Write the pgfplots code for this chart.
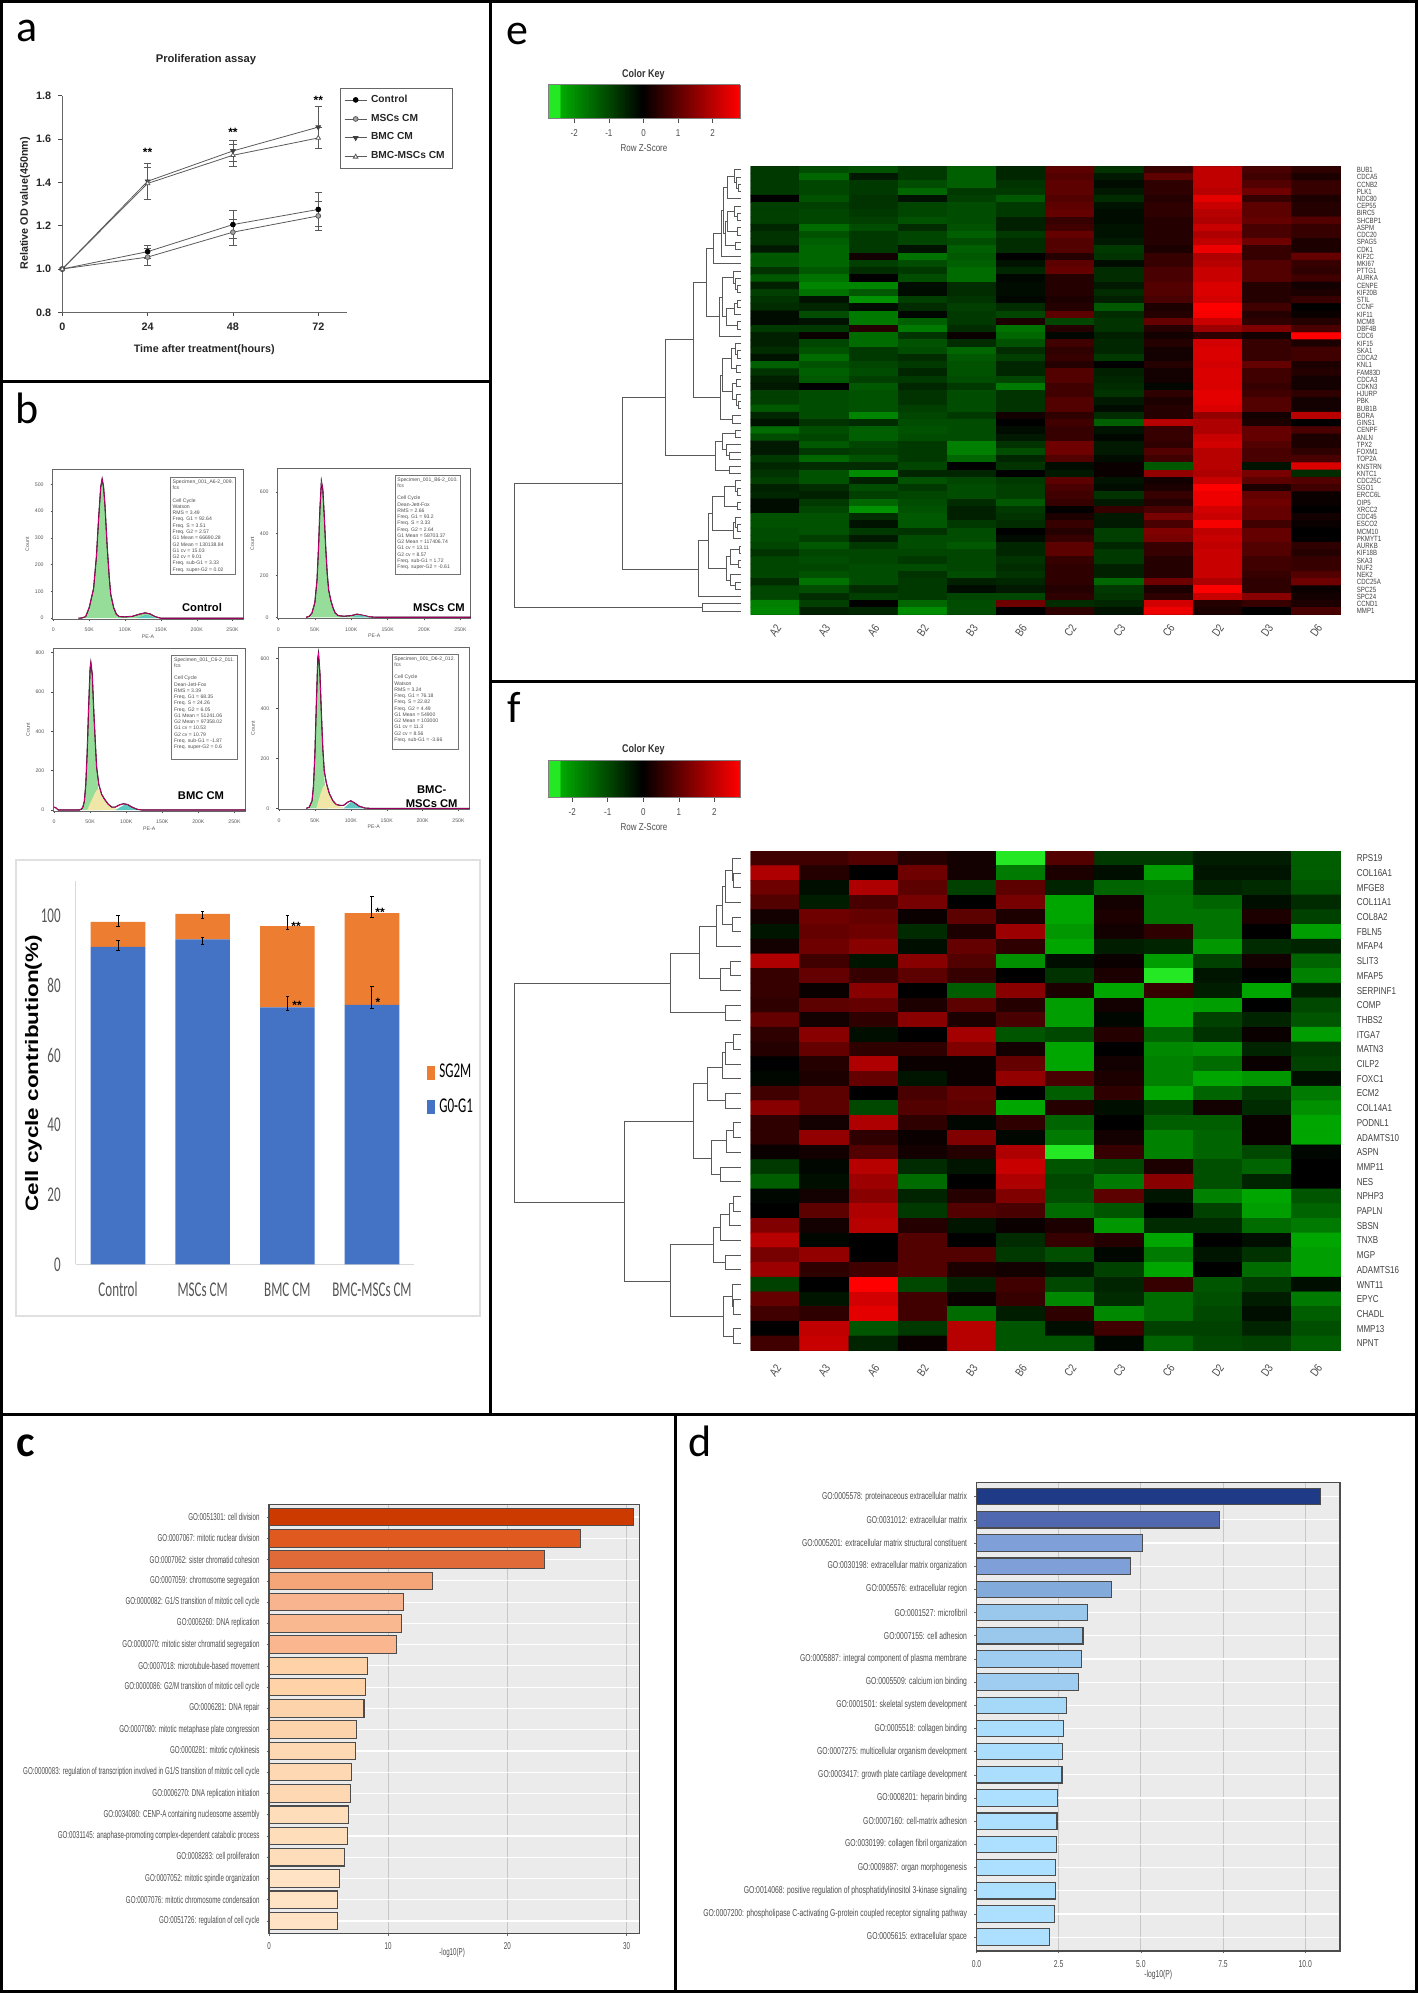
\documentclass[border=0pt]{standalone}
\usepackage{fontspec}
\usepackage{pgfplots}
\usepackage{pgfplotstable}
\pgfplotsset{compat=1.18}
\setmainfont{Liberation Sans}
\newfontfamily\narrow[FakeStretch=0.62]{Carlito}
\newfontfamily\carl{Carlito}
\newfontfamily\gofont[FakeStretch=0.62]{Liberation Sans}
\newfontfamily\gofontd[FakeStretch=0.68]{Liberation Sans}
\newfontfamily\keyfont[FakeStretch=0.8]{Liberation Sans}
\newfontfamily\widebold[FakeStretch=1.25]{Liberation Sans}
\newcommand\fs[1]{\fontsize{#1}{#1}\selectfont}
\pgfplotsset{/pgf/number format/assume math mode=true}

% bar colours panel c
\definecolor{c0}{HTML}{CC3A00}\definecolor{c1}{HTML}{E05A20}\definecolor{c2}{HTML}{E06A38}
\definecolor{c3}{HTML}{F4A678}\definecolor{c4}{HTML}{F7B48E}\definecolor{c5}{HTML}{F9B890}
\definecolor{c6}{HTML}{FAB78F}\definecolor{c7}{HTML}{FFD2A8}\definecolor{c8}{HTML}{FDD3AC}
\definecolor{c9}{HTML}{FED8B3}\definecolor{c10}{HTML}{FEDDBB}\definecolor{c11}{HTML}{FFE3C4}
% bar colours panel d
\definecolor{d0}{HTML}{1F3B87}\definecolor{d1}{HTML}{5068AF}\definecolor{d2}{HTML}{7F9FD8}
\definecolor{d3}{HTML}{82ABDC}\definecolor{d4}{HTML}{9AC7EC}\definecolor{d5}{HTML}{9ECDF1}
\definecolor{d6}{HTML}{A6D8F8}\definecolor{d7}{HTML}{ABDEFC}\definecolor{d8}{HTML}{ADE0FF}
\definecolor{tk}{HTML}{555555}
\definecolor{g1}{HTML}{96DD9A}\definecolor{sph}{HTML}{EFE6A8}\definecolor{g2}{HTML}{5CC8C0}

\pgfplotsset{
  colormap={gk}{rgb255(0cm)=(36,232,36); rgb255(9cm)=(36,232,36); rgb255(10cm)=(0,170,0);
    rgb255(69cm)=(0,0,0); rgb255(139cm)=(255,0,0)},
  colormap={gke}{rgb255(0cm)=(36,232,36); rgb255(9cm)=(36,232,36); rgb255(10cm)=(0,150,0);
    rgb255(69cm)=(0,0,0); rgb255(139cm)=(255,0,0)},
  heat/.style={scale only axis, width=295.1pt, anchor=north west, colormap name=gk,
    y dir=reverse, xmin=-0.5, xmax=11.5, point meta min=-2.76, point meta max=2.79,
    xtick={0,...,11}, xticklabels={A2,A3,A6,B2,B3,B6,C2,C3,C6,D2,D3,D6},
    major tick length=0pt, axis line style={draw=none}, yticklabel pos=right,
    axis background/.style={fill=black}},
  dend/.style={scale only axis, hide axis, width=120pt, anchor=north west, xmin=510, xmax=750, y dir=reverse, clip=false},
  hist/.style={scale only axis, anchor=north west, axis line style={black!60,line width=.5pt},
    tick align=outside, tick pos=left, major tick length=1pt, tick style={black!70,line width=.2pt},
    xtick={0,50,100,150,200,250}, xticklabels={0,50K,100K,150K,200K,250K},
    ticklabel style={font=\fs{2.6}, text=black!65}, xmin=-1, xmax=265,
    xlabel={PE-A}, ylabel={Count}, label style={font=\fs{2.6}, text=black!65},
    xlabel style={yshift=5.5pt}, ylabel style={yshift=-4pt}},
  go/.style={scale only axis, anchor=north west, xbar, bar shift=0pt, y dir=reverse, ytick={0,...,19},
    tick pos=left, tick align=outside, major tick length=1.2pt, tick style={black!60,line width=.3pt},
    axis background/.style={fill=black!8}, ymajorgrids, xmajorgrids,
    grid style={white,line width=.6pt}, axis line style={black!70,line width=.7pt}},
  key/.style={colormap name=gk, colorbar horizontal, colorbar sampled},
  keystyle/.style={width=96pt, samples=140, xtick={-2,-1,0,1,2},
    major tick length=2pt, xtick pos=left, xtick align=outside, axis line style={black!50,line width=.3pt},
    tick style={black!70,line width=.3pt}, xticklabel style={font=\keyfont\fs{5},text=black!70},
    xlabel={Row Z-Score}, xlabel style={font=\keyfont\fs{5},text=black!70,yshift=3pt}},
}
\newcommand\U[5]{\addplot[black!65,line width=.45pt] coordinates {(#1,#2)(#3,#2)(#3,#5)(#4,#5)};}
\newcommand\B[3]{\addplot[fill=#1,draw=black!70,line width=.55pt] coordinates {(#2,#3)};}
\newcommand\Info[5]{\draw[black!55,line width=.3pt] (#1,#2) rectangle (#3,#4);
  \node[anchor=north west,inner sep=0pt,align=left,text=black!70,font=\fontsize{2.55}{3.13}\selectfont] at (#1+2,#2+2) {#5};}

% panel b histograms: PE-A (K), count
\pgfplotstableread{
k n
35 0
40 1
45 6
50 40
53 75
56 110
60 230
63 370
66 490
68 520
70 490
72 420
75 270
78 150
80 90
84 40
88 14
92 6
100 5
110 7
120 15
128 20
135 16
142 6
150 0
265 0
}\hA
\pgfplotstableread{
k n
38 0
42 4
46 20
50 70
53 180
55 330
57 520
59 650
61 610
63 480
65 330
67 210
69 130
72 80
75 45
78 20
82 8
90 5
100 8
108 15
112 12
118 8
125 2
135 0
265 0
}\hB
\pgfplotstableread{
k n
0 15
3 10
6 0
35 0
38 5
40 15
42 45
44 130
46 300
48 530
50 720
51 750
53 690
55 510
57 360
59 220
62 130
66 80
70 55
75 30
80 15
85 15
90 25
96 32
102 28
108 15
115 4
122 0
265 0
}\hC
\pgfplotstableread{
k n
38 0
42 4
46 30
48 90
50 220
52 420
54 600
55 620
57 540
59 380
61 240
63 150
66 100
70 60
75 30
80 15
85 12
90 12
96 25
100 30
105 22
112 8
120 1
126 0
265 0
}\hD

% heat map e, row by row, 12 columns
\pgfplotstableread[row sep=\\,header=false]{%
-.9\\-1.2\\-1.3\\-.9\\-1.5\\-.6\\1\\-.8\\.6\\2.1\\.8\\.5\\%
-.9\\-1.6\\-.4\\-.9\\-1.5\\-.6\\.9\\-.4\\1\\2.1\\.7\\.3\\%
-.9\\-1.1\\-.9\\-1.2\\-1.5\\-.8\\1\\-.2\\.5\\2.1\\.9\\.6\\%
-.9\\-1.1\\-.9\\-1.6\\-.9\\-.9\\1\\-.4\\.5\\2\\1.2\\.6\\%
0\\-1.3\\-.8\\-.3\\-1\\-1.4\\.9\\-.7\\.4\\2.5\\.6\\.3\\%
-1\\-1\\-.8\\-1.1\\-1.2\\-.9\\1\\-.3\\.5\\2.2\\1\\.4\\%
-1\\-1.1\\-.9\\-1.1\\-1.2\\-.9\\1.1\\-.2\\.5\\2\\1\\.4\\%
-1\\-1.1\\-1\\-1.3\\-1.2\\-.5\\.6\\-.2\\.4\\1.9\\1.1\\.9\\%
-.6\\-1.7\\-1.2\\-.7\\-1.3\\-.5\\.7\\-.3\\.4\\2.2\\.8\\.6\\%
-.8\\-1.3\\-.9\\-1.1\\-1.5\\-.9\\1.1\\-.3\\.4\\1.9\\.8\\.6\\%
-.8\\-1.5\\-.9\\-1.1\\-1.2\\-.7\\.9\\-.4\\.4\\2.1\\1.2\\.3\\%
-.4\\-1.6\\-.9\\-.3\\-1.5\\-.7\\.9\\-.9\\.3\\2.6\\.6\\.3\\%
-1.4\\-1.6\\.2\\-1.8\\-1.4\\0\\.4\\-.8\\.6\\1.9\\.6\\1.1\\%
-1.4\\-1.6\\-1\\-1.2\\-1.5\\-.3\\1\\-.2\\.6\\2\\.9\\.6\\%
-.8\\-1.4\\-.7\\-.9\\-1.7\\-.6\\1.1\\-.7\\.8\\2.2\\.9\\.5\\%
-1.4\\-1.8\\0\\-1.2\\-1.7\\-.1\\.4\\-.7\\.8\\2.2\\.9\\.7\\%
-.5\\-2.1\\-2.1\\-.2\\-.7\\-.2\\.4\\-.4\\.9\\2.4\\.4\\.2\\%
-1\\-1.8\\-1.4\\-.2\\-.7\\-.2\\.4\\-.7\\.9\\2.4\\.4\\.3\\%
-.8\\-.3\\-2.3\\-1\\-.8\\-.1\\.3\\-.5\\.8\\2.3\\.4\\.6\\%
-.7\\-.6\\-.2\\-.7\\-1\\-.7\\.4\\-1.4\\.3\\2.9\\.7\\0\\%
-.2\\-1.2\\-1.9\\-.1\\-.9\\-1.1\\1\\-.7\\.4\\2.7\\.4\\.1\\%
-.2\\-.3\\-1.9\\-1.5\\-.9\\.3\\-1.1\\-.8\\1.1\\2.2\\.5\\.4\\%
-.9\\-.9\\.4\\-1.9\\-.7\\-1.8\\.4\\-.8\\.4\\1.7\\1.4\\.8\\%
-.5\\.1\\-1.7\\-.8\\.1\\-1.6\\-.1\\-.5\\.2\\.5\\.2\\2.9\\%
-.5\\-1.1\\-1.7\\-1.3\\-.7\\-1.3\\.7\\-.6\\.4\\2.3\\.6\\.3\\%
-.7\\-1.3\\-.9\\-1.2\\-1.6\\-.7\\.5\\-.6\\.2\\2.4\\.6\\.7\\%
-.3\\-1.7\\-.9\\-.7\\-1.4\\-1\\.6\\-.9\\.2\\2.4\\.6\\.7\\%
-1.5\\-1.3\\-1.1\\-.9\\-1.3\\-.6\\.4\\0\\.4\\2.3\\1.1\\.3\\%
-.8\\-1.5\\-1.2\\-.6\\-1.3\\-.6\\.9\\-.5\\.2\\2.4\\.7\\.4\\%
-.5\\-1.4\\-1\\-.9\\-1.2\\-1.1\\.9\\-.6\\.2\\2.4\\.7\\.2\\%
-.4\\0\\-1.4\\-.6\\-.9\\-1.9\\.7\\-.7\\-.1\\2.4\\.6\\.2\\%
-1\\-1.2\\-1.3\\-.8\\-1.2\\-.8\\.7\\-.8\\.5\\2.5\\.7\\.5\\%
-1\\-1.2\\-1.3\\-.8\\-1.2\\-.8\\.9\\-.4\\.3\\2.5\\.9\\.2\\%
-1.4\\-1.2\\-1.3\\-1\\-1.2\\-.8\\.9\\-.2\\.4\\2.4\\.9\\.2\\%
-.6\\-1.2\\-2.1\\-1.1\\-.9\\.2\\.5\\-.7\\.4\\1.6\\.2\\2\\%
-.3\\-.8\\-.7\\-1.2\\-1.2\\0\\.7\\-1.5\\2\\1.9\\.3\\0\\%
-1.7\\-1.2\\-1.5\\-1.3\\-1.2\\-.2\\.6\\-.3\\.6\\1.9\\1.1\\.8\\%
-1.2\\-1.1\\-1.5\\-1.2\\-1.2\\-.4\\.6\\-.1\\.6\\2.2\\1.1\\.3\\%
-.4\\-1.4\\-1.1\\-.9\\-2\\-.8\\1.2\\-.4\\.5\\2.3\\.9\\.3\\%
-.4\\-.9\\-1\\-.9\\-2\\-1.2\\1.2\\-.4\\.9\\2\\.8\\.5\\%
-.9\\-1.6\\-1.3\\-.9\\-1.6\\-.6\\.9\\-.2\\.7\\2\\.8\\.8\\%
-.6\\-.7\\-.7\\-1.1\\0\\-.8\\-.2\\.1\\-1.4\\2\\-.3\\2.4\\%
-.8\\-1.3\\-2.2\\-.6\\-.6\\0\\-.4\\.1\\1.6\\1.9\\1.3\\-.7\\%
-1\\-1.3\\-.5\\-1.3\\-1.1\\-.9\\1\\-.3\\.2\\2.2\\1\\.9\\%
-.5\\-.7\\-1.2\\-.9\\-1.2\\-1\\.8\\-.2\\.3\\2.8\\.3\\.7\\%
-.6\\-.5\\-1\\-1.1\\-1.2\\-1\\.7\\-.8\\.6\\2.6\\1.1\\.1\\%
-.2\\-.9\\-1.6\\-1.2\\-.7\\-1.4\\.6\\-.4\\.4\\2.6\\1.2\\.1\\%
-.2\\-1.1\\-2.3\\-1.3\\-.5\\-.9\\0\\.6\\.8\\2.3\\1.1\\0\\%
-1.3\\-1.3\\-.7\\-1.4\\-.5\\-.8\\.3\\-.4\\1.3\\2.2\\1.1\\.2\\%
-1.3\\-1.3\\-.3\\-1.4\\-.9\\-.7\\.6\\-.4\\.8\\2.7\\.7\\.1\\%
-1.2\\-1.3\\-.9\\-.8\\-1.2\\0\\.4\\-1\\1.4\\2.1\\1.1\\0\\%
-1.2\\-1\\-.4\\-1.2\\-1.2\\-.2\\.6\\-1\\1.3\\2.2\\1.1\\0\\%
-1.1\\-1.4\\-.9\\-1.2\\-1.4\\-.6\\1\\-.6\\.6\\2.1\\.9\\.5\\%
-.8\\-1.1\\-1.1\\-1.1\\-1.1\\-.6\\1\\-.9\\.6\\2.2\\.9\\.4\\%
-1.1\\-1.2\\-1.1\\-.9\\-1.1\\-.8\\.6\\-.9\\.4\\2.2\\.7\\.6\\%
-1.1\\-1.1\\-1.2\\-1.2\\-1.1\\-.7\\.5\\-.5\\.4\\2.2\\.7\\.6\\%
-1.1\\-1.3\\-1.2\\-.8\\-1.2\\-.8\\.5\\-.5\\.4\\2.2\\.6\\.9\\%
-.7\\-1.8\\-1.2\\-.9\\-.5\\-.6\\.5\\-1.6\\1.2\\1.9\\.5\\1.2\\%
-1.1\\-1.2\\-.7\\-.9\\-.2\\-.4\\.4\\-.9\\.3\\2.9\\.5\\.1\\%
-1.1\\-.7\\-1\\-.9\\-1.1\\-1.1\\.5\\-.8\\.5\\2.2\\1.5\\.2\\%
-2\\-1\\0\\-1.6\\-1.2\\1.2\\-.7\\-.6\\2.3\\.4\\.6\\.3\\%
-2.1\\-.5\\-.6\\-2.2\\-1.2\\0\\.5\\-.3\\2.6\\.3\\0\\.8\\%
}\heatE

% heat map f
\pgfplotstableread[row sep=\\,header=false]{%
.7\\.7\\.9\\.4\\.2\\-2.8\\.9\\-.8\\-.8\\-.4\\-.4\\-1.3\\%
1.9\\.4\\0\\1.2\\.2\\-1.7\\.3\\-.2\\-2.2\\-.3\\-.3\\-1.3\\%
1.2\\-.2\\1.9\\1\\-.9\\1\\-.5\\-1.4\\-1.5\\-.5\\-.6\\-1.2\\%
.9\\-.4\\.8\\1.3\\0\\1.3\\-2.3\\.2\\-1.6\\-1.4\\-.2\\-.6\\%
.2\\1.2\\1.1\\.1\\1\\.3\\-2.3\\.3\\-1.6\\-1.6\\.3\\-.9\\%
-.3\\1.1\\1.2\\-.6\\.3\\1.7\\-2.1\\.2\\.5\\-1.6\\0\\-2.2\\%
.2\\1.2\\1.5\\-.2\\1.1\\.5\\-2.3\\-.4\\-.5\\-2.1\\-.6\\-.5\\%
1.9\\.7\\-.3\\1.5\\.9\\-2\\-.2\\.1\\-2.2\\-.9\\.2\\-1.4\\%
.6\\1.1\\.6\\1\\.6\\0\\-.7\\.3\\-2.9\\-.3\\0\\-1.8\\%
.6\\.1\\1.5\\0\\-1.3\\1.5\\.3\\-2.3\\.6\\-.4\\-2.3\\-.4\\%
.5\\1\\1.1\\.3\\1\\.4\\-2.2\\.2\\-2.3\\-2.2\\0\\-1\\%
1.1\\.2\\.5\\1.5\\.3\\.8\\-2.2\\-.1\\-2.3\\-.9\\-.5\\-1.2\\%
.5\\1.5\\-.2\\0\\1.8\\-1.2\\-1\\.4\\-1.4\\-.7\\.1\\-2.2\\%
.4\\1.1\\.5\\.5\\1.4\\.2\\-2.3\\0\\-1.9\\-2\\-.5\\-.8\\%
0\\.4\\1.9\\.1\\.1\\1.1\\-2.3\\.2\\-1.8\\-1.5\\.1\\-.9\\%
-.1\\.3\\1.1\\-.3\\.1\\1.6\\.8\\.3\\-1.8\\-2.3\\-2.1\\-.2\\%
.7\\1\\0\\.8\\1.1\\0\\-1.3\\.5\\-2.3\\-1.4\\-.8\\-1.7\\%
1.5\\1\\-1\\.9\\1\\-2.3\\.4\\-.2\\-.9\\.2\\-.6\\-2\\%
.5\\.2\\1.9\\.5\\-.1\\.5\\-1.4\\0\\-1.3\\-1.3\\.1\\-2.3\\%
.5\\1.6\\.5\\.1\\1.4\\-.1\\-1.7\\.2\\-1.8\\-1.4\\.1\\-2.3\\%
.1\\.2\\.9\\.2\\.4\\1.9\\-2.9\\.6\\-1.8\\-1.4\\-1\\-.1\\%
-.8\\-.1\\2\\-.6\\-.3\\2.2\\-1.2\\-1\\.3\\-1.1\\-1.4\\0\\%
-1.3\\-.2\\1.7\\-1.5\\0\\1.9\\-1\\-1.7\\1.5\\-1.1\\-.5\\0\\%
-.1\\.2\\1.5\\-.5\\.4\\1.4\\-1.1\\1\\-.3\\-1.8\\-2.3\\-1.2\\%
0\\1\\1.9\\-.8\\.9\\.8\\-1.5\\-1.2\\0\\-.9\\-2.2\\-1.4\\%
1.4\\.2\\2\\.4\\-.3\\.1\\.3\\-2.1\\-.6\\-.6\\-1.5\\-1.7\\%
2\\-.1\\0\\.9\\0\\-.6\\.6\\.4\\-2.3\\0\\-.2\\-2.3\\%
1.3\\1.6\\0\\.9\\.9\\-.8\\-1.1\\-.1\\-1.7\\-.3\\-.7\\-2.2\\%
1.7\\.5\\.7\\.9\\.3\\.2\\-.3\\-.9\\-2.3\\0\\-1.5\\-2.2\\%
-.9\\0\\2.8\\-1\\-.5\\.7\\-1\\-.5\\.6\\-1.2\\-.8\\-.2\\%
1.1\\-.3\\2.3\\.7\\.1\\.6\\-1.9\\-.6\\-1.5\\-1.1\\-.4\\-1.7\\%
.7\\.5\\2.5\\.7\\-1.5\\-.4\\.5\\-1.9\\-1.5\\-1\\-.2\\-1.3\\%
0\\2.1\\-1.2\\-.8\\2\\-1.2\\-.2\\.7\\-.9\\-.9\\-.5\\-1.1\\%
.7\\2.2\\-.5\\.1\\2\\-1.2\\-1.2\\-.1\\-1.4\\-1\\-.9\\-1.3\\%
}\heatF

\begin{document}
\begin{tikzpicture}
\useasboundingbox (0pt,0pt) rectangle (709pt,-996.5pt);

% ---------- a
\begin{axis}[scale only axis, width=142.2pt, height=108.3pt, at={(31.15pt,-156.15pt)}, anchor=south west,
  xmin=0, xmax=80, ymin=0.8, ymax=1.8, axis lines*=left, clip=false,
  xtick={0,24,48,72}, ytick={0.8,1,...,1.8},
  tick align=outside, major tick length=2pt, tick style={black!70,line width=.4pt},
  axis line style={black!60,line width=.4pt},
  yticklabel style={/pgf/number format/fixed,/pgf/number format/fixed zerofill,/pgf/number format/precision=1},
  ticklabel style={font=\bfseries\fs{5.4}, text=black!85},
  title={Proliferation assay}, title style={font=\bfseries\fs{5.6}, text=black!85, at={(axis description cs:.505,1.109)}, anchor=center},
  xlabel={Time after treatment(hours)}, ylabel={Relative OD value(450nm)},
  every axis x label/.style={at={(axis description cs:.499,-.171)},anchor=center,font=\bfseries\fs{5.4},text=black!85},
  every axis y label/.style={at={(axis description cs:-.131,.503)},anchor=center,rotate=90,font=\bfseries\fs{5.4},text=black!85},
  legend style={at={(axis description cs:.976,1.036)},anchor=north west,draw=black!60,line width=.4pt,font=\bfseries\fs{5.1},text=black!85,
    inner xsep=2pt,inner ysep=1.2pt,row sep=.4pt,cells={anchor=west}},
  legend image code/.code={\draw[mark repeat=2,mark phase=2,#1] plot coordinates {(0pt,0pt)(5.5pt,0pt)(11pt,0pt)};},
  every axis plot/.append style={line width=.4pt, black!65},
  error bars/y dir=both, error bars/y explicit,
  error bars/error bar style={black!65,line width=.35pt}, error bars/error mark options={rotate=90,mark size=1.8pt,black!65,line width=.35pt},
]
\addplot[mark=*,mark size=1.2pt,mark options={fill=black,draw=black}] coordinates {(0,1) (24,1.08) +- (0,.03) (48,1.205) +- (0,.065) (72,1.275) +- (0,.08)};
\addplot[mark=*,mark size=1.2pt,mark options={fill=black!35,draw=black!65}] coordinates {(0,1) (24,1.055) +- (0,.04) (48,1.17) +- (0,.06) (72,1.245) +- (0,.065)};
\addplot[mark=triangle*,mark size=1.3pt,mark options={fill=black!75,draw=black!75,rotate=180}] coordinates {(0,1) (24,1.405) +- (0,.083) (48,1.545) +- (0,.05) (72,1.655) +- (0,.098)};
\addplot[mark=triangle*,mark size=1.3pt,mark options={fill=white,draw=black!65}] coordinates {(0,1) (24,1.395) +- (0,.072) (48,1.525) +- (0,.05) (72,1.605) +- (0,.05)};
\legend{Control,MSCs CM,BMC CM,BMC-MSCs CM}
\node[font=\bfseries\fs{6}] at (axis cs:24,1.54) {**};
\node[font=\bfseries\fs{6}] at (axis cs:48,1.63) {**};
\node[font=\bfseries\fs{6}] at (axis cs:72,1.78) {**};
\end{axis}

% ---------- b histograms
\begin{axis}[hist, width=95.3pt, height=74.85pt, at={(26.35pt,-234.65pt)}, ymin=-3, ymax=556, ytick={0,100,...,500}]
\addplot[fill=g1,draw=none] table {\hA} \closedcycle;
\addplot[black,line width=.55pt] table {\hA};
\addplot[magenta,line width=.3pt] table {\hA};
\addplot[fill=g2,draw=none] coordinates {(115,0)(122,6)(128,12)(134,10)(140,3)(146,0)} \closedcycle;
\end{axis}
\begin{axis}[hist, width=96.5pt, height=74.8pt, at={(138.85pt,-234.35pt)}, ymin=-5, ymax=710, xmax=264, ytick={0,200,400,600}]
\addplot[fill=g1,draw=none] table {\hB} \closedcycle;
\addplot[black,line width=.55pt] table {\hB};
\addplot[magenta,line width=.3pt] table {\hB};
\addplot[fill=g2,draw=none] coordinates {(100,0)(106,6)(111,10)(118,6)(124,0)} \closedcycle;
\end{axis}
\begin{axis}[hist, width=96pt, height=81.35pt, at={(26.65pt,-324.15pt)}, ymin=-5, ymax=822, ytick={0,200,...,800}]
\addplot[fill=g1,draw=none] coordinates {(38,0)(42,45)(44,130)(46,300)(48,530)(50,720)(51,750)(53,690)(55,510)(57,360)(59,220)(62,60)(66,0)} \closedcycle;
\addplot[fill=sph,draw=none] coordinates {(46,0)(52,50)(58,95)(62,110)(66,80)(70,55)(75,30)(80,15)(85,8)(90,3)(95,0)} \closedcycle;
\addplot[fill=g2,draw=none] coordinates {(85,0)(92,15)(98,28)(104,22)(112,5)(118,0)} \closedcycle;
\addplot[black,line width=.55pt] table {\hC};
\addplot[magenta,line width=.3pt] table {\hC};
\end{axis}
\begin{axis}[hist, width=95.5pt, height=81pt, at={(139.15pt,-323.65pt)}, ymin=-4, ymax=644, ytick={0,200,400,600}]
\addplot[fill=g1,draw=none] coordinates {(42,4)(46,30)(48,90)(50,220)(52,420)(54,600)(55,620)(57,540)(59,380)(61,240)(63,120)(66,30)(68,0)} \closedcycle;
\addplot[fill=sph,draw=none] coordinates {(52,0)(58,60)(62,90)(66,90)(70,60)(75,30)(80,15)(85,8)(92,0)} \closedcycle;
\addplot[fill=g2,draw=none] coordinates {(90,0)(96,15)(100,25)(106,18)(114,3)(120,0)} \closedcycle;
\addplot[black,line width=.55pt] table {\hD};
\addplot[magenta,line width=.3pt] table {\hD};
\end{axis}

% ---------- b stacked bars
\begin{axis}[scale only axis, width=169.3pt, height=191.8pt, at={(37.85pt,-632.15pt)}, anchor=south west,
  ybar stacked, bar width=27.3pt, xmin=-.5, xmax=3.5, ymin=0, ymax=110, axis lines*=left,
  xtick={0,1,2,3}, xticklabels={Control,MSCs CM,BMC CM,BMC-MSCs CM}, ytick={0,20,...,100},
  major tick length=0pt, axis line style={black!15,line width=.5pt},
  ticklabel style={font=\narrow\fs{10.5}, text=tk},
  xticklabel style={yshift=-5.5pt}, yticklabel style={xshift=-4pt},
  ylabel={Cell cycle contribution(\%)}, every axis y label/.style={at={(axis description cs:-.125,.498)},anchor=center,rotate=90,font=\widebold\bfseries\fs{9}},
  legend style={at={(axis description cs:1.0375,.533)},anchor=north west,draw=none,fill=none,font=\narrow\fs{10.5},inner sep=0pt,row sep=5pt,cells={anchor=west}},
  reverse legend,
  legend image code/.code={\fill[#1] (0pt,-3.5pt) rectangle (4pt,3.5pt);},
  error bars/y dir=both, error bars/y explicit,
  error bars/error bar style={black,line width=.5pt}, error bars/error mark options={rotate=90,mark size=.8pt,black,line width=.5pt},
]
\addplot[draw=none,fill={rgb,255:red,68;green,114;blue,196}] coordinates {(0,91) += (0,1.8) -= (0,1) (1,93.2) += (0,.6) -= (0,1.4) (2,73.7) += (0,3.1) -= (0,1) (3,74.4) += (0,5.2) -= (0,1)};
\addplot[draw=none,fill={rgb,255:red,237;green,125;blue,49}] coordinates {(0,7.2) += (0,1.8) -= (0,1.3) (1,7.3) += (0,.8) -= (0,1.3) (2,23.3) += (0,3.1) -= (0,1.1) (3,26.3) += (0,4.9) -= (0,1.2)};
\legend{G0-G1,SG2M}
\end{axis}

% ---------- c
\begin{axis}[go, width=185.35pt, height=214.5pt, at={(134.5pt,-752.15pt)}, xmin=0, xmax=31.1, ymin=-.6, ymax=19.58,
  bar width=8.75pt, xtick={0,10,20,30},
  x grid style={black!22,line width=.5pt},
  ticklabel style={font=\gofont\fs{5}, text=black!70},
  xlabel={-log10(P)}, every axis x label/.style={at={(axis description cs:.494,-.045)},anchor=center,font=\gofont\fs{5},text=black!70},
  yticklabels={GO:0051301: cell division,GO:0007067: mitotic nuclear division,GO:0007062: sister chromatid cohesion,GO:0007059: chromosome segregation,GO:0000082: G1/S transition of mitotic cell cycle,GO:0006260: DNA replication,GO:0000070: mitotic sister chromatid segregation,GO:0007018: microtubule-based movement,GO:0000086: G2/M transition of mitotic cell cycle,GO:0006281: DNA repair,GO:0007080: mitotic metaphase plate congression,GO:0000281: mitotic cytokinesis,GO:0000083: regulation of transcription involved in G1/S transition of mitotic cell cycle,GO:0006270: DNA replication initiation,GO:0034080: CENP-A containing nucleosome assembly,GO:0031145: anaphase-promoting complex-dependent catabolic process,GO:0008283: cell proliferation,GO:0007052: mitotic spindle organization,GO:0007076: mitotic chromosome condensation,GO:0051726: regulation of cell cycle},
]
\B{c0}{30.6}{0}\B{c1}{26.16}{1}\B{c2}{23.15}{2}\B{c3}{13.7}{3}\B{c4}{11.27}{4}
\B{c5}{11.09}{5}\B{c6}{10.69}{6}\B{c7}{8.26}{7}\B{c7}{8.08}{8}\B{c8}{7.97}{9}
\B{c8}{7.36}{10}\B{c9}{7.25}{11}\B{c9}{6.92}{12}\B{c9}{6.85}{13}\B{c10}{6.67}{14}
\B{c10}{6.59}{15}\B{c10}{6.34}{16}\B{c11}{5.94}{17}\B{c11}{5.76}{18}\B{c11}{5.72}{19}
\end{axis}

% ---------- d
\begin{axis}[go, width=181.75pt, height=234.25pt, at={(488.25pt,-741.25pt)}, xmin=0, xmax=11.06, ymin=-.61, ymax=19.6,
  bar width=8.2pt, xtick={0,2.5,5,7.5,10},
  x grid style={black!22,line width=.5pt},
  xticklabel style={/pgf/number format/fixed,/pgf/number format/fixed zerofill,/pgf/number format/precision=1},
  ticklabel style={font=\gofontd\fs{5}, text=black!70},
  xlabel={-log10(P)}, every axis x label/.style={at={(axis description cs:.5,-.05)},anchor=center,font=\gofontd\fs{5},text=black!70},
  yticklabels={GO:0005578: proteinaceous extracellular matrix,GO:0031012: extracellular matrix,GO:0005201: extracellular matrix structural constituent,GO:0030198: extracellular matrix organization,GO:0005576: extracellular region,GO:0001527: microfibril,GO:0007155: cell adhesion,GO:0005887: integral component of plasma membrane,GO:0005509: calcium ion binding,GO:0001501: skeletal system development,GO:0005518: collagen binding,GO:0007275: multicellular organism development,GO:0003417: growth plate cartilage development,GO:0008201: heparin binding,GO:0007160: cell-matrix adhesion,GO:0030199: collagen fibril organization,GO:0009887: organ morphogenesis,GO:0014068: positive regulation of phosphatidylinositol 3-kinase signaling,GO:0007200: phospholipase C-activating G-protein coupled receptor signaling pathway,GO:0005615: extracellular space},
]
\B{d0}{10.47}{0}\B{d1}{7.39}{1}\B{d2}{5.06}{2}\B{d2}{4.69}{3}\B{d3}{4.12}{4}
\B{d4}{3.39}{5}\B{d4}{3.24}{6}\B{d5}{3.2}{7}\B{d5}{3.11}{8}\B{d6}{2.74}{9}
\B{d7}{2.64}{10}\B{d7}{2.63}{11}\B{d7}{2.6}{12}\B{d8}{2.47}{13}\B{d8}{2.45}{14}
\B{d8}{2.44}{15}\B{d8}{2.41}{16}\B{d8}{2.4}{17}\B{d8}{2.37}{18}\B{d8}{2.22}{19}
\end{axis}

% ---------- e heat map
\begin{axis}[heat, colormap name=gke, height=224.2pt, at={(375.3pt,-83.15pt)}, ymin=-.5, ymax=61.5, ytick={0,...,61},
  yticklabels={BUB1,CDCA5,CCNB2,PLK1,NDC80,CEP55,BIRC5,SHCBP1,ASPM,CDC20,SPAG5,CDK1,KIF2C,MKI67,PTTG1,AURKA,CENPE,KIF20B,STIL,CCNF,KIF11,MCM8,DBF4B,CDC6,KIF15,SKA1,CDCA2,KNL1,FAM83D,CDCA3,CDKN3,HJURP,PBK,BUB1B,BORA,GINS1,CENPF,ANLN,TPX2,FOXM1,TOP2A,KNSTRN,KNTC1,CDC25C,SGO1,ERCC6L,OIP5,XRCC2,CDC45,ESCO2,MCM10,PKMYT1,AURKB,KIF18B,SKA3,NUF2,NEK2,CDC25A,SPC25,SPC24,CCND1,MMP1},
  yticklabel style={font=\keyfont\fs{3.8},text=black!75,xshift=4.5pt},
  xticklabel style={font=\keyfont\fs{5.8},text=black!70,rotate=55,anchor=center,xshift=-6.55pt,yshift=-4.59pt},
]
\addplot[matrix plot*,point meta=explicit,mesh/cols=12] table[x index=0,y index=0,x expr={mod(\coordindex,12)},y expr={floor((\coordindex+0.5)/12)},meta index=0] {\heatE};
\end{axis}

% ---------- f heat map
\begin{axis}[heat, height=249.85pt, at={(375.3pt,-425.5pt)}, ymin=-.5, ymax=33.5, ytick={0,...,33},
  yticklabels={RPS19,COL16A1,MFGE8,COL11A1,COL8A2,FBLN5,MFAP4,SLIT3,MFAP5,SERPINF1,COMP,THBS2,ITGA7,MATN3,CILP2,FOXC1,ECM2,COL14A1,PODNL1,ADAMTS10,ASPN,MMP11,NES,NPHP3,PAPLN,SBSN,TNXB,MGP,ADAMTS16,WNT11,EPYC,CHADL,MMP13,NPNT},
  yticklabel style={font=\keyfont\fs{5},text=black!75,xshift=4.5pt},
  xticklabel style={font=\keyfont\fs{5.8},text=black!70,rotate=55,anchor=center,xshift=-8.07pt,yshift=-5.65pt},
]
\addplot[matrix plot*,point meta=explicit,mesh/cols=12] table[x index=0,y index=0,x expr={mod(\coordindex,12)},y expr={floor((\coordindex+0.5)/12)},meta index=0] {\heatF};
\end{axis}

% ---------- dendrogram e
\begin{axis}[dend, height=224.2pt, at={(255pt,-83.15pt)}, ymin=-.5, ymax=61.5]
\U{741}{2}{738}{741}{3}\U{741}{1}{736}{738}{2.5}\U{741}{0}{734}{736}{1.75}\U{734}{.9}{727}{741}{4}
\U{741}{6}{737}{741}{7}\U{741}{5}{734}{737}{6.5}\U{741}{8}{737}{741}{9}\U{734}{5.75}{727}{737}{8.5}
\U{741}{10}{735}{741}{11}\U{727}{7.1}{725}{735}{10.5}\U{727}{2.4}{723}{725}{8.8}\U{723}{5.6}{721}{741}{12}
\U{721}{8.8}{713.7}{741}{13}
\U{741}{16}{737}{741}{17}\U{741}{15}{735}{737}{16.5}\U{741}{14}{733}{735}{15.75}
\U{741}{18}{737}{741}{19}\U{741}{20}{734}{737}{18.5}\U{741}{21}{737}{741}{22}\U{734}{19.2}{726}{737}{21.5}
\U{733}{14.9}{722.5}{726}{20.3}\U{722.5}{17.6}{719.6}{741}{23}\U{713.7}{10.9}{706.7}{719.6}{20.3}
\U{741}{25}{737}{741}{26}\U{741}{24}{735}{737}{25.5}\U{741}{27}{736}{741}{28}\U{735}{24.75}{731}{736}{27.5}
\U{741}{29}{736}{741}{30}\U{741}{32}{738}{741}{33}\U{741}{31}{736}{738}{32.5}\U{736}{29.5}{732}{736}{31.75}
\U{731}{26.1}{722}{732}{30.6}\U{741}{34}{732}{741}{35}\U{722}{28.4}{720}{732}{34.5}\U{706.7}{15.6}{693.2}{720}{31.4}
\U{741}{36}{735}{741}{37}\U{741}{39}{729}{741}{40}\U{741}{38}{726}{729}{39.5}\U{735}{36.5}{722}{726}{38.7}
\U{741}{41}{729}{741}{42}\U{722}{37.6}{715.5}{729}{41.5}\U{693.2}{23.5}{665.7}{715.5}{39.5}
\U{741}{44}{737}{741}{45}\U{741}{43}{735}{737}{44.5}\U{741}{46}{737}{741}{47}\U{735}{43.75}{724}{737}{46.5}
\U{741}{49}{737}{741}{50}\U{741}{48}{735}{737}{49.5}\U{735}{48.75}{733}{741}{51}\U{724}{45.1}{712.5}{733}{49.9}
\U{741}{52}{739}{741}{53}\U{741}{54}{738}{741}{55}\U{739}{52.5}{730}{738}{54.5}\U{741}{57}{735}{741}{58}
\U{741}{56}{730}{735}{57.5}\U{730}{53.5}{726}{730}{56.75}\U{712.5}{47.5}{708}{726}{55.1}\U{708}{51.3}{698}{741}{59}
\U{665.7}{31.5}{622.4}{698}{55.2}\U{741}{60}{702}{741}{61}\U{622.4}{43.4}{514.6}{702}{60.5}
\end{axis}

% ---------- dendrogram f
\begin{axis}[dend, height=249.85pt, at={(255pt,-425.5pt)}, ymin=-.5, ymax=33.5]
\U{741}{1}{733.5}{741}{2}\U{741}{0}{732}{733.5}{1.5}\U{732}{.8}{725}{741}{3}\U{741}{4}{732}{741}{5}
\U{725}{1.9}{722}{732}{4.5}\U{722}{3.2}{716.6}{741}{6}\U{741}{7}{730}{741}{8}\U{730}{7.5}{720}{741}{9}
\U{716.6}{4.65}{699}{720}{8.2}\U{741}{10}{725.4}{741}{11}\U{699}{6.5}{670.4}{725.4}{10.5}
\U{741}{12}{733}{741}{13}\U{733}{12.5}{725}{741}{14}\U{725}{13.2}{722}{741}{15}\U{741}{16}{725}{741}{17}
\U{722}{14.2}{707}{725}{16.5}\U{741}{18}{733}{741}{19}\U{733}{18.5}{726}{741}{20}\U{741}{21}{720}{741}{22}
\U{726}{19.2}{711}{720}{21.5}\U{707}{15.3}{693}{711}{20.4}
\U{741}{23}{733}{741}{24}\U{733}{23.5}{729}{741}{25}\U{729}{24.2}{720}{741}{26}\U{741}{27}{725}{741}{28}
\U{720}{25.1}{713.7}{725}{27.5}\U{741}{30}{733}{741}{31}\U{741}{29}{732}{733}{30.5}\U{741}{32}{733}{741}{33}
\U{732}{29.8}{723.6}{733}{32.5}\U{713.7}{26.3}{670.4}{723.6}{31.2}\U{693}{17.9}{624.7}{670.4}{28.8}
\U{670.4}{8.5}{514.6}{624.7}{23.4}
\end{axis}

% ---------- colour keys
\pgfplotscolorbardrawstandalone[key, point meta min=-2.76, point meta max=2.79,
  colorbar style={keystyle, at={(274pt,-33.85pt)}, height=17pt}]
\pgfplotscolorbardrawstandalone[key, point meta min=-2.68, point meta max=2.72,
  colorbar style={keystyle, at={(274pt,-371.5pt)}, height=18.85pt}]

% ---------- text in pixel coordinates and frames
\begin{scope}[x=.5pt,y=-.5pt]
\node[font=\keyfont\bfseries\fs{5.6},text=black!80] at (643.4,75) {Color Key};
\node[font=\keyfont\bfseries\fs{5.6},text=black!80] at (643.4,749.3) {Color Key};

\Info{170.3}{477.3}{235.7}{574.3}{Specimen\_001\_A6-2\_009.\\fcs\\ ~\\Cell Cycle\\Watson\\RMS = 3.49\\Freq. G1 = 92.64\\Freq. S = 3.51\\Freq. G2 = 2.57\\G1 Mean = 66690.28\\G2 Mean = 130138.84\\G1 cv = 15.03\\G2 cv = 9.01\\Freq. sub-G1 = 3.33\\Freq. super-G2 = 0.02}
\Info{395}{475}{460.7}{574.7}{Specimen\_001\_B6-2\_010.\\fcs\\ ~\\Cell Cycle\\Dean-Jett-Fox\\RMS = 2.66\\Freq. G1 = 93.2\\Freq. S = 3.33\\Freq. G2 = 2.64\\G1 Mean = 58703.37\\G2 Mean = 117406.74\\G1 cv = 13.11\\G2 cv = 8.57\\Freq. sub-G1 = 1.72\\Freq. super-G2 = -0.61}
\Info{171.7}{655}{237.3}{759.3}{Specimen\_001\_C6-2\_011.\\fcs\\ ~\\Cell Cycle\\Dean-Jett-Fox\\RMS = 3.39\\Freq. G1 = 68.35\\Freq. S = 24.26\\Freq. G2 = 6.05\\G1 Mean = 51241.06\\G2 Mean = 97358.02\\G1 cv = 10.53\\G2 cv = 10.79\\Freq. sub-G1 = -1.87\\Freq. super-G2 = 0.6}
\Info{392}{654}{458.7}{749}{Specimen\_001\_D6-2\_012.\\fcs\\ ~\\Cell Cycle\\Watson\\RMS = 3.24\\Freq. G1 = 76.18\\Freq. S = 22.82\\Freq. G2 = 4.49\\G1 Mean = 54900\\G2 Mean = 103000\\G1 cv = 11.3\\G2 cv = 8.56\\Freq. sub-G1 = -3.66}

\node[font=\bfseries\fs{5.6}] at (202,607.7) {Control};
\node[font=\bfseries\fs{5.6}] at (439,607.7) {MSCs CM};
\node[font=\bfseries\fs{5.6}] at (201,796) {BMC CM};
\node[font=\bfseries\fs{5.6},align=center] at (431.7,796.7) {BMC-\\[1pt]MSCs CM};

\node[font=\bfseries\fs{6}] at (296,926) {**};
\node[font=\bfseries\fs{6}] at (297,1005) {**};
\node[font=\bfseries\fs{6}] at (380,912) {**};
\node[font=\bfseries\fs{6}] at (378,1002) {*};
\draw[black!12,line width=.7pt] (16,860) rectangle (480,1316);

\node[anchor=base west,inner sep=0pt,font=\carl\fs{22}] at (16,41) {a};
\node[anchor=base west,inner sep=0pt,font=\carl\fs{22}] at (15,423) {b};
\node[anchor=base west,inner sep=0pt,font=\carl\bfseries\fs{22}] at (16,1456) {c};
\node[anchor=base west,inner sep=0pt,font=\carl\fs{22}] at (688,1456) {d};
\node[anchor=base west,inner sep=0pt,font=\carl\fs{22}] at (506,44) {e};
\node[anchor=base west,inner sep=0pt,font=\carl\fs{22}] at (507,722) {f};

\draw[line width=1.5pt] (1.5,1.5) rectangle (1416.5,1991.5);
\draw[line width=1.5pt] (490,1.5) -- (490,1414.5);
\draw[line width=1.5pt] (1.5,381) -- (490,381);
\draw[line width=1.5pt] (490,681) -- (1416.5,681);
\draw[line width=1.5pt] (1.5,1414.5) -- (1416.5,1414.5);
\draw[line width=1.5pt] (675,1414.5) -- (675,1991.5);
\end{scope}
\end{tikzpicture}
\end{document}
